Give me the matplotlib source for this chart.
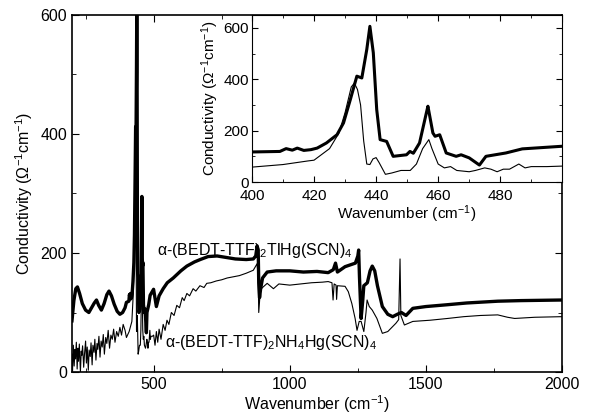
import numpy as np
import matplotlib
matplotlib.use("Agg")
import matplotlib.pyplot as plt
from matplotlib.ticker import MultipleLocator

plt.rcParams['font.family'] = ['Liberation Sans', 'DejaVu Sans']
plt.rcParams['mathtext.fontset'] = 'custom'
plt.rcParams['mathtext.rm'] = 'Liberation Sans'
plt.rcParams['mathtext.it'] = 'Liberation Sans:italic'

# alpha-(BEDT-TTF)2TlHg(SCN)4  (thick line)
tl_x_low = [200, 207, 214, 220, 228, 238, 250, 262, 272, 282, 290, 298, 308, 318, 328,
            336, 345, 355, 366, 376, 386, 395]
tl_y_low = [86, 120, 140, 143, 132, 115, 104, 100, 108, 116, 121, 112, 104, 115, 130,
            136, 128, 114, 102, 97, 100, 108]
tl_x_mid = [400, 409, 411, 413, 414.6, 416.7, 419, 421, 424, 427.4, 429.5, 431.7, 433.8,
            435.4, 437, 438, 439.1, 440.2, 441.3, 443.4, 445.5, 449.8, 450.9, 452, 454,
            456.2, 456.7, 458.3, 459, 460.5, 462.6, 465.8, 467.4, 470, 473.3, 475.4,
            481.8, 487.1, 499.7]
tl_y_mid = [117, 119, 130, 124, 132, 123, 126, 132, 152, 184, 230, 321, 412,
            405, 516, 606, 503, 282, 165, 158, 100, 106, 119, 112, 152,
            269, 295, 191, 178, 184, 113, 100, 106, 94, 66, 100,
            113, 129, 139]
tl_x_high = [510, 520, 535, 550, 572, 600, 622, 650, 671, 700, 733, 760, 800, 840, 866,
             875, 880, 884, 886, 889, 893, 900, 917, 950, 1000, 1050, 1100, 1141, 1160,
             1168, 1175, 1203, 1241, 1250, 1253, 1256, 1262, 1268, 1272, 1285, 1295,
             1303, 1312, 1322, 1340, 1360, 1378, 1395, 1410, 1427, 1452,
             1500, 1577, 1650, 1764, 1850, 2000]
tl_y_high = [110, 128, 140, 150, 158, 170, 178, 185, 189, 194, 195, 193, 190, 189, 190,
             195, 212, 205, 150, 125, 140, 158, 168, 170, 170, 168, 169, 167, 172,
             183, 168, 177, 183, 195, 205, 160, 90, 120, 145, 150, 170,
             178, 170, 145, 110, 97, 93, 97, 100, 95, 107,
             110, 113, 116, 119, 120, 121]

# alpha-(BEDT-TTF)2NH4Hg(SCN)4  (thin line)
nh_x_low = [200, 202, 205, 208, 211, 213, 216, 219, 222, 224, 227, 231, 234, 236, 239,
            243, 246, 250, 253, 256, 260, 263, 267, 270, 274, 277, 281, 284, 288, 292,
            295, 299, 303, 307, 311, 315, 319, 324, 328, 333, 338, 343, 348, 353, 358,
            364, 370, 376, 382, 388, 395]
nh_y_low = [30, 2, 45, 10, 38, 22, 50, 5, 40, 18, 47, 0, 35, 28, 44,
            8, 30, 52, 15, 42, 3, 37, 26, 49, 12, 45, 33, 55, 20, 48,
            38, 60, 25, 52, 42, 63, 30, 58, 48, 70, 40, 62, 55, 72, 50,
            68, 60, 75, 62, 80, 70]
nh_x_mid = [400, 410, 418, 420, 425, 428, 430, 432, 433, 434, 435, 436, 437, 438, 439,
            440, 441, 443, 445, 448, 451, 453, 455, 457, 458, 460, 462, 464, 466, 470,
            472, 475, 477, 479, 481, 483, 486, 488, 490, 495, 500]
nh_y_mid = [58, 68, 82, 85, 130, 190, 270, 370, 385, 360, 300, 160, 70, 68, 90,
            95, 75, 30, 35, 45, 45, 70, 130, 165, 130, 70, 55, 60, 45, 40,
            45, 55, 50, 40, 50, 50, 70, 55, 60, 60, 62]
nh_x_high = [505, 510, 515, 520, 527, 535, 542, 549, 556, 565, 575, 585, 595, 605, 612,
             622, 632, 645, 655, 670, 685, 695, 710, 730, 750, 770, 793, 815, 840, 866,
             875, 880, 884, 886, 889, 892, 900, 917, 940, 960, 1000, 1040, 1080, 1120,
             1141, 1155, 1159, 1163, 1170, 1172, 1175, 1203, 1215, 1228, 1240, 1247,
             1255, 1262, 1272, 1280, 1284, 1292, 1303, 1320, 1340, 1360, 1390, 1400,
             1405, 1408, 1421, 1452, 1515, 1580, 1639, 1700, 1764, 1800, 1826, 1900, 2000]
nh_y_high = [45, 68, 50, 72, 55, 80, 70, 87, 80, 100, 95, 112, 108, 125, 120,
             132, 128, 140, 136, 145, 142, 149, 150, 153, 155, 158, 160, 162, 166, 171,
             178, 182, 160, 100, 120, 138, 142, 149, 140, 148, 146, 148, 150, 151,
             152, 150, 121, 148, 146, 122, 145, 144, 135, 115, 90, 70,
             85, 85, 68, 100, 121, 110, 104, 90, 65, 68, 82, 88,
             190, 95, 79, 85, 87, 90, 93, 95, 96, 92, 90, 92, 93]

tl_x = tl_x_low + tl_x_mid + tl_x_high
tl_y = tl_y_low + tl_y_mid + tl_y_high
nh_x = nh_x_low + nh_x_mid + nh_x_high
nh_y = nh_y_low + nh_y_mid + nh_y_high

fig = plt.figure(figsize=(5.89, 4.15), dpi=100)
ax = fig.add_axes([0.1222, 0.1036, 0.832, 0.8603])
ax.plot(nh_x, nh_y, color='black', lw=0.8)
ax.plot(tl_x, tl_y, color='black', lw=2.4)
ax.set_xlim(200, 2000)
ax.set_ylim(0, 600)
ax.xaxis.set_major_locator(MultipleLocator(500))
ax.xaxis.set_minor_locator(MultipleLocator(250))
ax.yaxis.set_major_locator(MultipleLocator(200))
ax.yaxis.set_minor_locator(MultipleLocator(100))
ax.tick_params(which='both', direction='in', top=True, right=True, labelsize=11.5)
ax.tick_params(which='major', length=5)
ax.tick_params(which='minor', length=3)
for s in ax.spines.values():
    s.set_linewidth(1.2)
ax.set_xlabel('Wavenumber (cm$^{-1}$)', fontsize=11.5, labelpad=1)
ax.set_ylabel('Conductivity ($\\Omega^{-1}$cm$^{-1}$)', fontsize=11.5, labelpad=4)

ax.text(512, 205, 'α-(BEDT-TTF)$_2$TlHg(SCN)$_4$', fontsize=11.5, va='center')
ax.text(540, 49, 'α-(BEDT-TTF)$_2$NH$_4$Hg(SCN)$_4$', fontsize=11.5, va='center')

# inset
ins = fig.add_axes([0.4278, 0.5614, 0.5263, 0.4024])
ins.plot(nh_x_mid, nh_y_mid, color='black', lw=0.8)
ins.plot(tl_x_mid, tl_y_mid, color='black', lw=2.2)
ins.set_xlim(400, 499.9)
ins.set_ylim(0, 650)
ins.xaxis.set_major_locator(MultipleLocator(20))
ins.xaxis.set_minor_locator(MultipleLocator(10))
ins.yaxis.set_major_locator(MultipleLocator(200))
ins.yaxis.set_minor_locator(MultipleLocator(100))
ins.tick_params(which='both', direction='in', top=True, right=True, labelsize=11)
ins.tick_params(axis='y', pad=2)
ins.tick_params(axis='x', pad=5)
ins.tick_params(which='major', length=4)
ins.tick_params(which='minor', length=2)
ins.set_xlabel('Wavenumber (cm$^{-1}$)', fontsize=11, labelpad=0)
ins.set_ylabel('Conductivity ($\\Omega^{-1}$cm$^{-1}$)', fontsize=11, labelpad=2)
ins.yaxis.get_major_ticks()[0].label1.set_verticalalignment('bottom')

fig.savefig('out.png', dpi=100)
